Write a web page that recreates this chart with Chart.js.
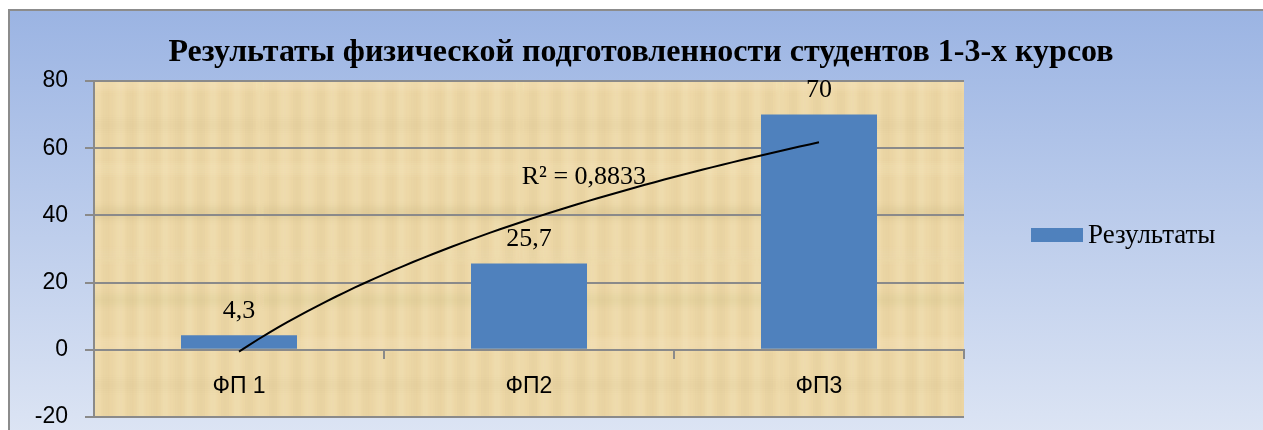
<!DOCTYPE html>
<html>
<head>
<meta charset="utf-8">
<script src="https://cdn.jsdelivr.net/npm/chart.js@4.4.1/dist/chart.umd.min.js"></script>
<style>
  html, body { margin: 0; padding: 0; background: #ffffff; }
  canvas { display: block; }
</style>
</head>
<body>
<canvas id="c" width="1263" height="430"></canvas>
<script>
// ---------- data ----------
const chartTitle = 'Результаты физической подготовленности студентов 1-3-х курсов';
const categories = ['ФП 1', 'ФП2', 'ФП3'];
const seriesName = 'Результаты';
const values = [4.3, 25.7, 70];
const yMin = -20;
const yMax = 80;
const yStep = 20;

// ---------- logarithmic trendline (least squares on ln(x)), as Excel computes it ----------
const n = values.length;
const lnX = categories.map((_, i) => Math.log(i + 1));
const meanLn = lnX.reduce((s, v) => s + v, 0) / n;
const meanY = values.reduce((s, v) => s + v, 0) / n;
let sxy = 0, sxx = 0;
for (let i = 0; i < n; i++) { sxy += (lnX[i] - meanLn) * (values[i] - meanY); sxx += (lnX[i] - meanLn) ** 2; }
const trendB = sxy / sxx;
const trendA = meanY - trendB * meanLn;
let ssRes = 0, ssTot = 0;
for (let i = 0; i < n; i++) { ssRes += (values[i] - (trendA + trendB * lnX[i])) ** 2; ssTot += (values[i] - meanY) ** 2; }
const r2Text = 'R² = ' + (1 - ssRes / ssTot).toFixed(4).replace('.', ',');

// ---------- papyrus texture (decoration only) ----------
function makeTexture(ctx) {
  const pc = document.createElement('canvas');
  pc.width = 260; pc.height = 260;
  const p = pc.getContext('2d');
  p.fillStyle = '#EDD8A8';
  p.fillRect(0, 0, 260, 260);
  p.filter = 'blur(2px)';
  for (let i = 0; i < 44; i++) {
    const x = (i * 59) % 260;
    const w = 2 + (i % 4) * 2;
    p.fillStyle = i % 2 ? 'rgba(205,175,115,0.08)' : 'rgba(252,236,198,0.18)';
    p.fillRect(x, 0, w, 260);
  }
  for (let i = 0; i < 36; i++) {
    const y = (i * 43) % 260;
    const h = 2 + (i % 3) * 2;
    p.fillStyle = i % 2 ? 'rgba(200,170,110,0.05)' : 'rgba(252,236,198,0.12)';
    p.fillRect(0, y, 260, h);
  }
  p.filter = 'none';
  return ctx.createPattern(pc, 'repeat');
}

const backgroundPlugin = {
  id: 'bg',
  beforeDraw(chart) {
    const { ctx, width, height, chartArea } = chart;
    ctx.save();
    ctx.fillStyle = '#ffffff';
    ctx.fillRect(0, 0, width, height);
    const g = ctx.createLinearGradient(0, 10, 0, height + 10);
    g.addColorStop(0, '#9BB4E3');
    g.addColorStop(1, '#DDE5F4');
    ctx.fillStyle = g;
    ctx.fillRect(9, 10, width - 9, height);
    ctx.strokeStyle = '#8C8C8C';
    ctx.lineWidth = 2;
    ctx.beginPath();
    ctx.moveTo(9, height + 5);
    ctx.lineTo(9, 10);
    ctx.lineTo(width + 5, 10);
    ctx.stroke();
    ctx.fillStyle = makeTexture(ctx);
    ctx.fillRect(chartArea.left, chartArea.top, chartArea.right - chartArea.left, chartArea.bottom - chartArea.top);
    ctx.restore();
  }
};

const titlePlugin = {
  id: 'customTitle',
  afterDraw(chart) {
    const ctx = chart.ctx;
    ctx.save();
    ctx.font = 'bold 32px "Liberation Serif", "Times New Roman", serif';
    ctx.fillStyle = '#000000';
    ctx.textAlign = 'center';
    ctx.textBaseline = 'alphabetic';
    ctx.fillText(chartTitle, 641, 61);
    ctx.restore();
  }
};

const trendAndLabelsPlugin = {
  id: 'trendAndLabels',
  afterDatasetsDraw(chart) {
    const ctx = chart.ctx;
    const xs = chart.scales.x2, ys = chart.scales.y;
    ctx.save();
    // trendline through the library's scales
    ctx.strokeStyle = '#000000';
    ctx.lineWidth = 2;
    ctx.lineJoin = 'round';
    ctx.beginPath();
    const steps = 60;
    for (let k = 0; k <= steps; k++) {
      const xv = 1 + k * (n - 1) / steps;
      const px = xs.getPixelForValue(xv);
      const py = ys.getPixelForValue(trendA + trendB * Math.log(xv));
      if (k === 0) ctx.moveTo(px, py); else ctx.lineTo(px, py);
    }
    ctx.stroke();
    // value labels
    const meta = chart.getDatasetMeta(0);
    ctx.font = '26px "Liberation Serif", "Times New Roman", serif';
    ctx.fillStyle = '#000000';
    ctx.textAlign = 'center';
    ctx.textBaseline = 'alphabetic';
    meta.data.forEach((bar, i) => {
      ctx.fillText(String(values[i]).replace('.', ','), bar.x, bar.y - 17.5);
    });
    // R² label of the trendline
    ctx.textAlign = 'left';
    ctx.fillText(r2Text, xs.getPixelForValue(1.975), ys.getPixelForValue(49.3));
    ctx.restore();
  }
};

const legendPlugin = {
  id: 'customLegend',
  afterDraw(chart) {
    const ctx = chart.ctx;
    const ca = chart.chartArea;
    const bx = ca.right + 67;
    const cy = (ca.top + ca.bottom) / 2 - 14;
    ctx.save();
    ctx.fillStyle = '#4F81BD';
    ctx.fillRect(bx, cy - 7, 52, 14);
    ctx.font = '27px "Liberation Serif", "Times New Roman", serif';
    ctx.fillStyle = '#000000';
    ctx.textAlign = 'left';
    ctx.textBaseline = 'alphabetic';
    ctx.fillText(seriesName, bx + 57, cy + 8);
    ctx.restore();
  }
};

new Chart(document.getElementById('c'), {
  type: 'bar',
  data: {
    labels: categories,
    datasets: [
      {
        label: seriesName,
        data: values,
        backgroundColor: '#4F81BD',
        borderWidth: 0,
        barPercentage: 0.4,
        categoryPercentage: 1.0
      }
    ]
  },
  options: {
    responsive: false,
    animation: false,
    devicePixelRatio: 1,
    layout: { padding: { left: 0, top: 81, right: 299, bottom: 13 } },
    plugins: {
      legend: { display: false },
      title: { display: false },
      tooltip: { enabled: false }
    },
    scales: {
      x: {
        type: 'category',
        position: { y: 0 },
        offset: true,
        grid: { display: true, drawOnChartArea: false, drawTicks: true, tickLength: 8, color: '#8A8A8A', lineWidth: 2, offset: true },
        border: { display: true, color: '#8A8A8A', width: 2 },
        ticks: { color: '#000000', padding: 15, font: { family: '"Liberation Sans", Arial, sans-serif', size: 23 } }
      },
      x2: {
        type: 'linear',
        display: false,
        position: 'top',
        min: 0.5,
        max: categories.length + 0.5,
        offset: false,
        ticks: { display: false },
        afterFit(scale) { scale.height = 0; }
      },
      y: {
        type: 'linear',
        position: 'left',
        min: yMin,
        max: yMax,
        afterFit(scale) { scale.width = 94; scale.paddingTop = 0; scale.paddingBottom = 0; },
        grid: { color: '#8A8A8A', lineWidth: 2, drawTicks: true, tickLength: 9 },
        border: { display: true, color: '#8A8A8A', width: 2 },
        ticks: { stepSize: yStep, color: '#000000', padding: 17, font: { family: '"Liberation Sans", Arial, sans-serif', size: 23, lineHeight: 1 } }
      }
    }
  },
  plugins: [backgroundPlugin, trendAndLabelsPlugin, titlePlugin, legendPlugin]
});
</script>
</body>
</html>
